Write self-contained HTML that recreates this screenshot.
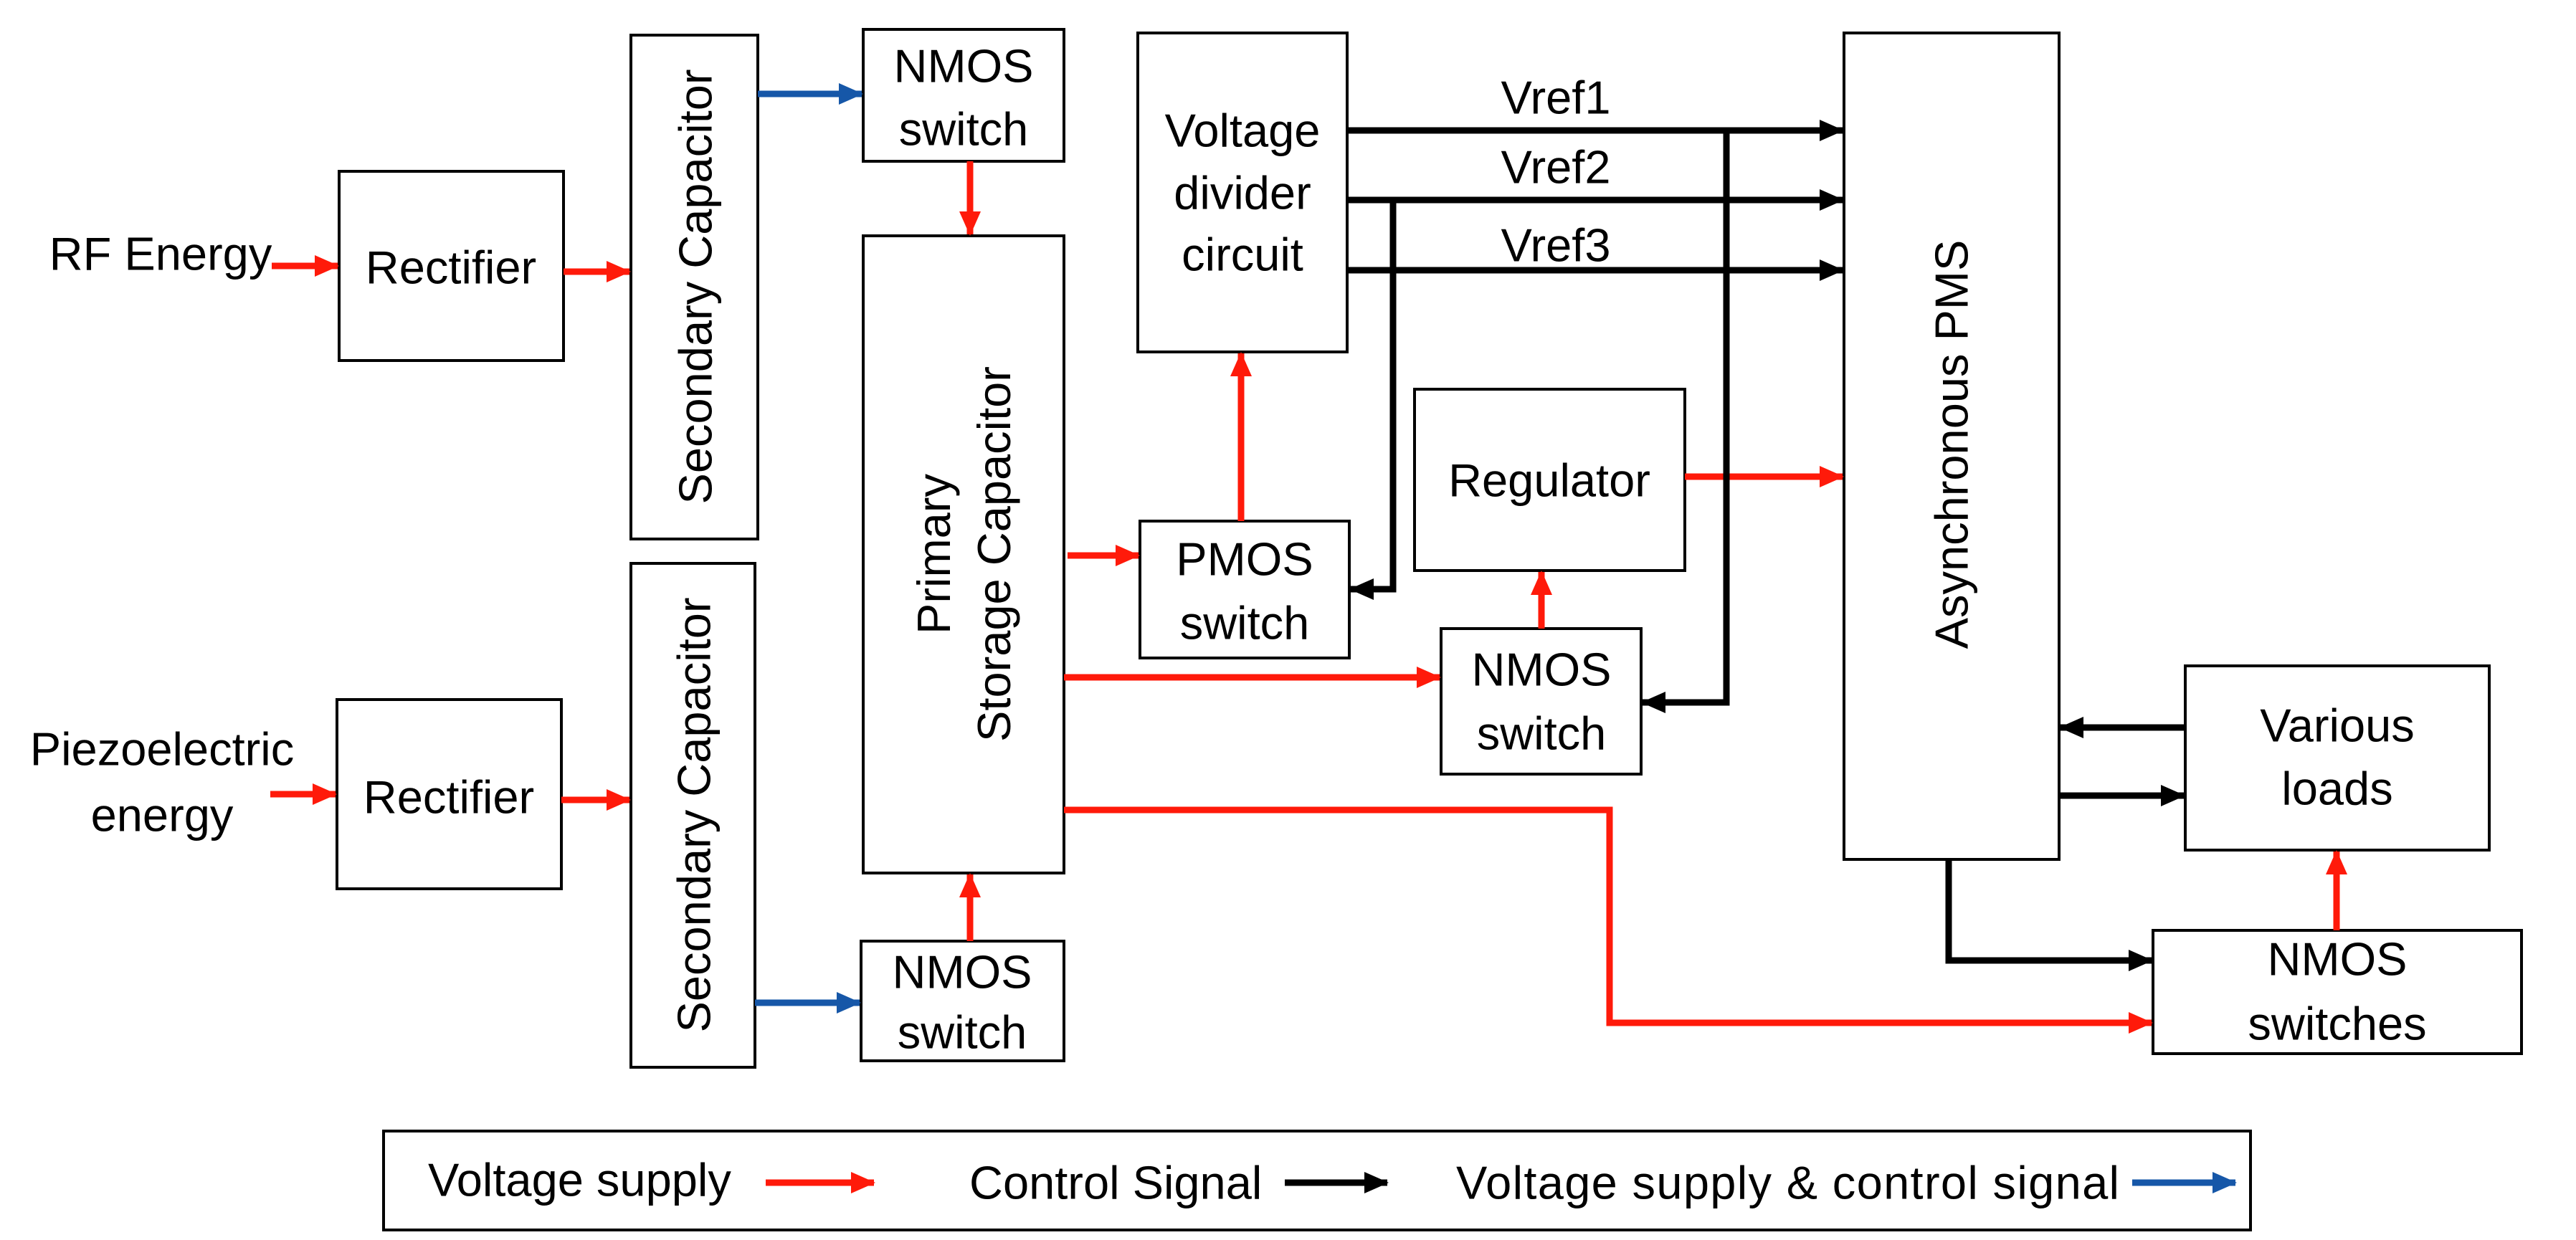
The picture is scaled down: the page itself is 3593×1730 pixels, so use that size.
<!DOCTYPE html>
<html><head><meta charset="utf-8"><style>html,body{margin:0;padding:0;background:#fff}svg{display:block}text{font-family:"Liberation Sans",sans-serif;font-size:65px;fill:#000}</style></head>
<body>
<svg width="3593" height="1730" viewBox="0 0 3593 1730" xmlns="http://www.w3.org/2000/svg">
<defs>
<marker id="r" markerUnits="userSpaceOnUse" markerWidth="34" markerHeight="30" refX="32" refY="15" orient="auto"><path d="M0,0 L34,15 L0,30 Z" fill="#ff1a0a"/></marker>
<marker id="k" markerUnits="userSpaceOnUse" markerWidth="34" markerHeight="30" refX="32" refY="15" orient="auto"><path d="M0,0 L34,15 L0,30 Z" fill="#000"/></marker>
<marker id="b" markerUnits="userSpaceOnUse" markerWidth="34" markerHeight="30" refX="32" refY="15" orient="auto"><path d="M0,0 L34,15 L0,30 Z" fill="#1657a8"/></marker>
</defs>
<g fill="#fff" stroke="#000" stroke-width="4">
<rect x="473" y="239" width="313" height="264"/>
<rect x="880" y="49" width="177" height="703"/>
<rect x="470" y="976" width="313" height="264"/>
<rect x="880" y="786" width="173" height="703"/>
<rect x="1204" y="41" width="280" height="184"/>
<rect x="1204" y="329" width="280" height="889"/>
<rect x="1201" y="1313" width="283" height="167"/>
<rect x="1587" y="46" width="292" height="445"/>
<rect x="1590" y="727" width="292" height="191"/>
<rect x="1973" y="543" width="377" height="253"/>
<rect x="2010" y="877" width="279" height="203"/>
<rect x="2572" y="46" width="300" height="1153"/>
<rect x="3048" y="929" width="424" height="257"/>
<rect x="3003" y="1298" width="514" height="172"/>
<rect x="535" y="1578" width="2604" height="138"/>
</g>
<g fill="none" stroke-width="9">
<g stroke="#ff1a0a" marker-end="url(#r)">
<path d="M379,371 H471"/>
<path d="M786,379 H878"/>
<path d="M377,1108 H468"/>
<path d="M783,1116 H878"/>
<path d="M1353,225 V327"/>
<path d="M1353,1313 V1220"/>
<path d="M1489,775 H1588"/>
<path d="M1484,945 H2008"/>
<path d="M1731,727 V493"/>
<path d="M2150,877 V798"/>
<path d="M2350,665 H2570"/>
<path d="M3259,1298 V1188"/>
<path d="M1484,1130 H2245 V1427 H3001"/>
<path d="M1068,1650 H1219"/>
</g>
<g stroke="#000" marker-end="url(#k)">
<path d="M1879,182 H2570"/>
<path d="M1879,279 H2570"/>
<path d="M1879,377 H2570"/>
<path d="M2408,182 V980 H2291"/>
<path d="M1943,279 V822 H1884"/>
<path d="M3048,1015 H2874"/>
<path d="M2872,1110 H3046"/>
<path d="M2718,1199 V1340 H3001"/>
<path d="M1792,1650 H1935"/>
</g>
<g stroke="#1657a8" marker-end="url(#b)">
<path d="M1057,131 H1202"/>
<path d="M1053,1399 H1199"/>
<path d="M2974,1650 H3118"/>
</g>
</g>
<g text-anchor="middle" dominant-baseline="central">
<text x="224" y="354">RF Energy</text>
<text x="226" y="1045">Piezoelectric</text>
<text x="226" y="1137">energy</text>
<text x="629" y="373">Rectifier</text>
<text x="626" y="1112">Rectifier</text>
<text transform="translate(970,400) rotate(-90)">Secondary Capacitor</text>
<text transform="translate(968,1137) rotate(-90)">Secondary Capacitor</text>
<text x="1344" y="92">NMOS</text>
<text x="1344" y="180">switch</text>
<text transform="translate(1344,773) rotate(-90)"><tspan x="0" y="-42">Primary</tspan><tspan x="0" y="42">Storage Capacitor</tspan></text>
<text x="1342" y="1356">NMOS</text>
<text x="1342" y="1440">switch</text>
<text x="1733" y="182">Voltage</text>
<text x="1733" y="269">divider</text>
<text x="1733" y="355">circuit</text>
<text x="1736" y="780">PMOS</text>
<text x="1736" y="869">switch</text>
<text x="2170" y="136">Vref1</text>
<text x="2170" y="233">Vref2</text>
<text x="2170" y="342">Vref3</text>
<text x="2161" y="670">Regulator</text>
<text x="2150" y="934">NMOS</text>
<text x="2150" y="1023">switch</text>
<text transform="translate(2722,620) rotate(-90)">Asynchronous PMS</text>
<text x="3260" y="1012">Various</text>
<text x="3260" y="1100">loads</text>
<text x="3260" y="1338">NMOS</text>
<text x="3260" y="1428">switches</text>
</g>
<g dominant-baseline="central">
<text x="597" y="1646">Voltage supply</text>
<text x="1352" y="1650">Control Signal</text>
<text x="2031" y="1650" textLength="925">Voltage supply &amp; control signal</text>
</g>
</svg>
</body></html>
